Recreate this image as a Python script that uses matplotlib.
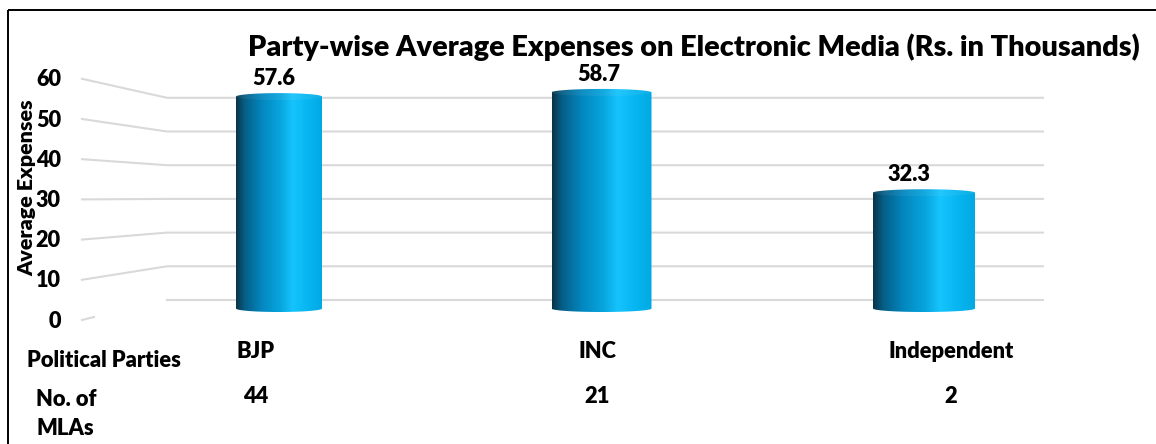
import numpy as np
import matplotlib
matplotlib.use("Agg")
import matplotlib.pyplot as plt
from matplotlib.colors import LinearSegmentedColormap
from matplotlib.path import Path
from matplotlib.patches import PathPatch

# ---- data ----
parties = ["BJP", "INC", "Independent"]
avg_expenses = [57.6, 58.7, 32.3]
num_mlas = [44, 21, 2]
y_ticks = [0, 10, 20, 30, 40, 50, 60]

TITLE = "Party-wise Average Expenses on Electronic Media (Rs. in Thousands)"
YLABEL = "Average Expenses"

W, H = 1156, 444
FONT = ["Lato", "DejaVu Sans"]
WEIGHT = "heavy"

# fake 3-D wall geometry, pixels from the top-left corner
BACK_X0, BACK_X1 = 167, 1043
BACK_Y0, BACK_DY = 300, 3.37      # back wall: px per unit
SIDE_X0 = 82
SIDE_Y0, SIDE_DY = 320, 4.02      # side wall, left end

BAR_BASE, BAR_DY = 312, 3.8       # cylinders have their own (front) scale
BAR_X0, BAR_STEP = 279, 322.5
BAR_WIDTHS = [86, 100, 102]       # px, perspective makes them differ
LABEL_DX = [-5, -3, -15]          # px shift of value labels
COL_X = [256, 597, 951]           # px centres of the table columns
GRID = "#d9d9d9"

fig = plt.figure(figsize=(W / 100, H / 100), dpi=100)
renderer = fig.canvas.get_renderer()


def fit_size(text, target_px, size0=20, rotation=0):
    t = fig.text(0, 0, text, fontsize=size0, fontweight=WEIGHT, family=FONT, rotation=rotation)
    bb = t.get_window_extent(renderer=renderer)
    t.remove()
    return size0 * target_px / (bb.height if rotation else bb.width)


canvas = fig.add_axes([0, 0, 1, 1])
canvas.set_xlim(0, W)
canvas.set_ylim(H, 0)
canvas.axis("off")

ax = fig.add_axes([0, 0, 1, 1])
ax.set_xlim(-BAR_X0 / BAR_STEP, (W - BAR_X0) / BAR_STEP)
ax.set_ylim(-(H - BAR_BASE) / BAR_DY, BAR_BASE / BAR_DY)
ax.axis("off")

# chart border (only left/top visible in the crop)
canvas.plot([8, 8], [H, 10.5], color="black", lw=1.4, solid_capstyle="butt")
canvas.plot([8, W], [10.5, 10.5], color="black", lw=1.4, solid_capstyle="butt")

# walls + tick labels
tick_fs = fit_size("60", 25)
for v in y_ticks:
    yb = BACK_Y0 - BACK_DY * v
    ys = SIDE_Y0 - SIDE_DY * v
    if v == 0:
        canvas.plot([SIDE_X0, SIDE_X0 + 12], [ys, ys - 3], color=GRID, lw=1.5, zorder=1)
        canvas.plot([BACK_X0, BACK_X1], [yb, yb], color=GRID, lw=1.5, zorder=1)
    else:
        canvas.plot([SIDE_X0, BACK_X0, BACK_X1], [ys, yb, yb], color=GRID, lw=1.5, zorder=1)
    canvas.text(61, ys + 1, str(v), ha="right", va="center", fontsize=tick_fs,
                fontweight=WEIGHT, family=FONT, color="black")

canvas.text(27, 188, YLABEL, rotation=90, ha="center", va="center",
            fontsize=fit_size(YLABEL, 177, rotation=90), fontweight=WEIGHT, family=FONT)

# cylinders
cmap = LinearSegmentedColormap.from_list("cyl", [
    (0.0, "#0a3449"), (0.10, "#065e86"), (0.30, "#0387bf"), (0.52, "#08a6df"),
    (0.66, "#16c4fd"), (0.82, "#08b7f1"), (1.0, "#02a9e3")])
grad = np.linspace(0, 1, 256)[None, :]
e = 3.5 / BAR_DY
widths = [w / BAR_STEP for w in BAR_WIDTHS]
bars = ax.bar(range(len(parties)), avg_expenses, width=widths, color="none", zorder=3)
for i, p in enumerate(bars):
    x0, w, h = p.get_x(), p.get_width(), p.get_height()
    cx, r = x0 + w / 2, w / 2
    t1 = np.linspace(np.pi, 0, 60)
    t2 = np.linspace(0, -np.pi, 60)
    top = np.column_stack([cx + r * np.cos(t1), h - e + e * np.sin(t1)])
    bot = np.column_stack([cx + r * np.cos(t2), e + e * np.sin(t2)])
    verts = np.vstack([top, bot, top[:1]])
    codes = [Path.MOVETO] + [Path.LINETO] * (len(verts) - 2) + [Path.CLOSEPOLY]
    clip = PathPatch(Path(verts, codes), transform=ax.transData, facecolor="none", edgecolor="none")
    ax.add_patch(clip)
    im = ax.imshow(grad, extent=[x0, x0 + w, 0, h], cmap=cmap, aspect="auto",
                   interpolation="bilinear", zorder=3)
    im.set_clip_path(clip)
    # faint top rim
    tt = np.linspace(0, 2 * np.pi, 80)
    ax.fill(cx + r * np.cos(tt), h - e + e * np.sin(tt), color="white", alpha=0.06, zorder=4, lw=0)

    ax.annotate(f"{avg_expenses[i]}", xy=(i, h), xytext=(LABEL_DX[i], 8),
                textcoords="offset pixels", ha="center", va="baseline",
                fontsize=fit_size("57.6", 43), fontweight=WEIGHT, family=FONT)

ax.set_xlim(-BAR_X0 / BAR_STEP, (W - BAR_X0) / BAR_STEP)
ax.set_ylim(-(H - BAR_BASE) / BAR_DY, BAR_BASE / BAR_DY)

# title
canvas.text(693.5, 56, TITLE, ha="center", va="baseline",
            fontsize=fit_size(TITLE, 893), fontweight=WEIGHT, family=FONT)

# data table underneath
tab_fs = fit_size("Political Parties", 155)
canvas.text(27, 367, "Political Parties", ha="left", va="baseline",
            fontsize=tab_fs, fontweight=WEIGHT, family=FONT)
canvas.text(36, 406, "No. of", ha="left", va="baseline",
            fontsize=tab_fs, fontweight=WEIGHT, family=FONT)
canvas.text(36, 435, "MLAs", ha="left", va="baseline",
            fontsize=tab_fs, fontweight=WEIGHT, family=FONT)
for i, name in enumerate(parties):
    canvas.text(COL_X[i], 358, name, ha="center", va="baseline",
                fontsize=tab_fs, fontweight=WEIGHT, family=FONT)
    canvas.text(COL_X[i], 403, str(num_mlas[i]), ha="center", va="baseline",
                fontsize=tab_fs, fontweight=WEIGHT, family=FONT)

fig.savefig("out.png", dpi=100)
